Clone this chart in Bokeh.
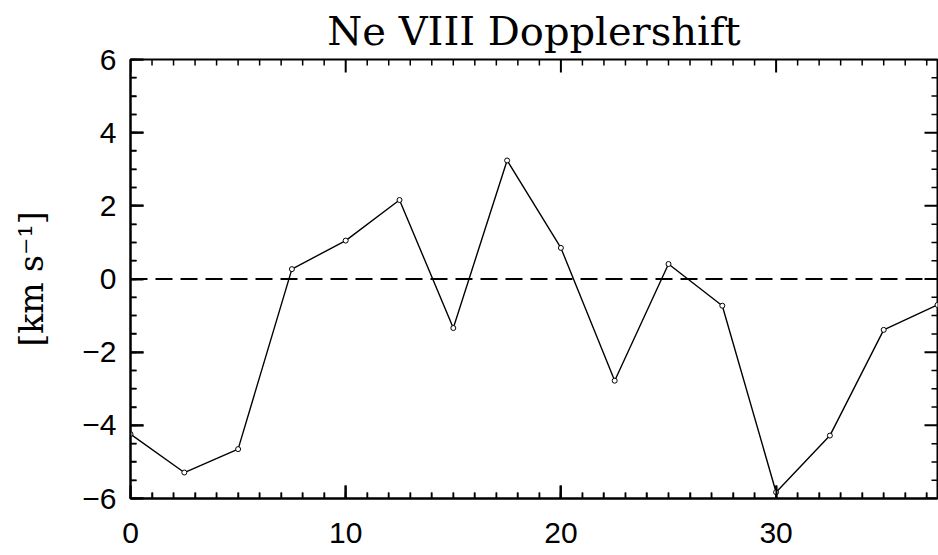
from bokeh.plotting import figure
from bokeh.models import LinearAxis, Span, SingleIntervalTicker, Range1d
from bokeh.embed import file_html
from bokeh.resources import INLINE

# data
x_pos = [0, 2.5, 5, 7.5, 10, 12.5, 15, 17.5, 20, 22.5, 25, 27.5, 30, 32.5, 35, 37.5]
shift = [-4.24, -5.29, -4.65, 0.27, 1.05, 2.16, -1.34, 3.24, 0.85, -2.78, 0.41, -0.73, -5.83, -4.28, -1.39, -0.71]
x_ticks = [0, 10, 20, 30]
x_minor = [v for v in range(0, 38) if v not in x_ticks]
y_ticks = [-6, -4, -2, 0, 2, 4, 6]
y_minor = [v / 2 for v in range(-12, 13) if (v / 2) not in y_ticks]
title_text = "Ne VIII Dopplershift"

X0, X1 = 0, 37.5
Y0, Y1 = -6, 6
FRAME_W, FRAME_H = 807, 439

p = figure(width=938, height=553, output_backend="svg", toolbar_location=None,
           x_range=Range1d(X0, X1), y_range=Range1d(Y0, Y1),
           x_axis_location=None, y_axis_location=None,
           min_border_left=130, min_border_right=1, min_border_top=59, min_border_bottom=55,
           title=title_text)
p.background_fill_color = "white"
p.border_fill_color = "white"
p.outline_line_color = "black"
p.outline_line_width = 2
p.grid.visible = False

p.title.text_font = "DejaVu Serif"
p.title.text_font_size = "40px"
p.title.text_font_style = "normal"
p.title.align = "center"
p.title.text_color = "black"
p.title.offset = 6
p.title.standoff = 11

def style(ax):
    ax.axis_line_width = 2
    ax.axis_line_color = "black"
    ax.major_tick_in = 13
    ax.major_tick_out = 0
    ax.minor_tick_in = 6
    ax.minor_tick_out = 0
    ax.major_tick_line_width = 2
    ax.minor_tick_line_width = 1.5
    ax.major_tick_line_color = "black"
    ax.minor_tick_line_color = "black"
    ax.major_label_text_font = "Liberation Sans"
    ax.major_label_text_font_size = "30px"
    ax.major_label_text_color = "black"

xb = LinearAxis(ticker=SingleIntervalTicker(interval=10, num_minor_ticks=10))
style(xb)
xb.major_label_standoff = 24
p.add_layout(xb, "below")

yl = LinearAxis(ticker=SingleIntervalTicker(interval=2, num_minor_ticks=4), axis_label="[km s⁻¹]")
style(yl)
yl.major_label_standoff = 14
yl.major_label_overrides = {t: ("−" + str(-t) if t < 0 else str(t)) for t in y_ticks}
yl.axis_label_text_font = "DejaVu Serif"
yl.axis_label_text_font_size = "33px"
yl.axis_label_text_font_style = "normal"
yl.axis_label_text_color = "black"
yl.axis_label_standoff = 28
p.add_layout(yl, "left")

# inward ticks on all four frame edges (IDL box style)
ux = (X1 - X0) / FRAME_W   # data units per pixel, x
uy = (Y1 - Y0) / FRAME_H   # data units per pixel, y
for edge, direction in ((Y1, -1), (Y0, 1)):
    p.segment(x0=x_ticks, x1=x_ticks, y0=[edge] * len(x_ticks),
              y1=[edge + direction * 13 * uy] * len(x_ticks), line_color="black", line_width=2)
    p.segment(x0=x_minor, x1=x_minor, y0=[edge] * len(x_minor),
              y1=[edge + direction * 6 * uy] * len(x_minor), line_color="black", line_width=1.5)
for edge, direction in ((X1, -1), (X0, 1)):
    p.segment(x0=[edge] * len(y_ticks), x1=[edge + direction * 13 * ux] * len(y_ticks),
              y0=y_ticks, y1=y_ticks, line_color="black", line_width=2)
    p.segment(x0=[edge] * len(y_minor), x1=[edge + direction * 6 * ux] * len(y_minor),
              y0=y_minor, y1=y_minor, line_color="black", line_width=1.5)

p.add_layout(Span(location=0, dimension="width", line_color="black",
                  line_width=2, line_dash="17 8"))

p.line(x_pos, shift, line_color="black", line_width=1.4)
p.scatter(x_pos, shift, marker="circle", size=5, fill_color="white",
          line_color="black", line_width=1)

open("out.html", "w").write(file_html(p, INLINE))
